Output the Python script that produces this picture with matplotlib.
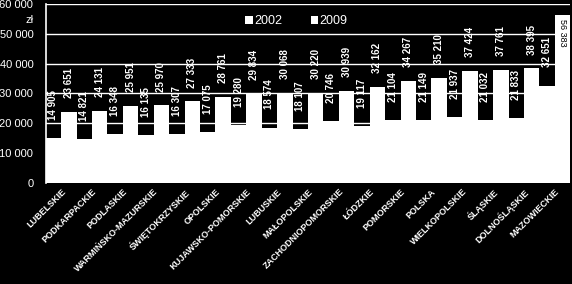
import matplotlib
matplotlib.use("Agg")
import matplotlib.pyplot as plt
import numpy as np

categories = ["LUBELSKIE", "PODKARPACKIE", "PODLASKIE", "WARMIŃSKO-MAZURSKIE",
              "ŚWIĘTOKRZYSKIE", "OPOLSKIE", "KUJAWSKO-POMORSKIE", "LUBUSKIE",
              "MAŁOPOLSKIE", "ZACHODNIOPOMORSKIE", "ŁÓDZKIE", "POMORSKIE",
              "POLSKA", "WIELKOPOLSKIE", "ŚLĄSKIE", "DOLNOŚLĄSKIE", "MAZOWIECKIE"]
values_2002 = [14905, 14821, 16348, 16135, 16307, 17075, 19280, 18574,
               18107, 20746, 19117, 21104, 21149, 21937, 21032, 21833, 32651]
values_2009 = [23651, 24131, 25951, 25970, 27333, 28761, 29834, 30068,
               30220, 30939, 32162, 34267, 35210, 37424, 37761, 38395, 56383]
yticks = [0, 10000, 20000, 30000, 40000, 50000, 60000]
ytick_labels = ["0", "10 000", "20 000", "30 000", "40 000", "50 000", "60 000"]

plt.rcParams['font.family'] = ['Liberation Sans', 'DejaVu Sans']

fig = plt.figure(figsize=(5.72, 2.84), dpi=100, facecolor='black')
ax = fig.add_axes([0.080, 0.356, 0.917, 0.630], facecolor='black')

x = np.arange(len(categories))
w = 0.5
b1 = ax.bar(x - w / 2, values_2002, width=w, color='white', edgecolor='none', zorder=3, label='2002')
b2 = ax.bar(x + w / 2, values_2009, width=w, color='white', edgecolor='none', zorder=3, label='2009')

ax.set_ylim(0, 60000)
ax.set_xlim(-0.5, len(categories) - 0.5)
ax.set_yticks(yticks)
ax.set_yticklabels(ytick_labels, color='white', fontsize=8)
ax.tick_params(axis='y', length=0, pad=9)
ax.tick_params(axis='x', length=0, pad=3)
ax.set_xticks(x)
ax.set_xticklabels(categories, rotation=45, ha='right', rotation_mode='anchor',
                   color='white', fontsize=6.5, fontweight='bold')
ax.grid(axis='y', color='white', linewidth=1, zorder=1)
for s in ['top', 'right', 'bottom']:
    ax.spines[s].set_visible(False)
ax.spines['left'].set_color('white')
ax.spines['left'].set_linewidth(1.2)

def fmt(v):
    return f"{v:,}".replace(",", " ")

for bars, vals, off in ((b1, values_2002, 13), (b2, values_2009, 10)):
    for rect, v in zip(bars, vals):
        cx = rect.get_x() + rect.get_width() / 2
        if v > 50000:
            ax.annotate(fmt(v), (cx, v), xytext=(0, -3), textcoords='offset points',
                        rotation=270, ha='center', va='top', color='black',
                        fontsize=6.5, zorder=5)
        else:
            ax.annotate(fmt(v), (cx, v), xytext=(0, off), textcoords='offset points',
                        rotation=90, ha='center', va='bottom', color='white',
                        fontsize=7, fontweight='bold', zorder=5)

fig.text(26 / 572, 1 - 20 / 284, "zł", color='white', fontsize=8, va='center', ha='left')

leg = ax.legend(loc='upper center', bbox_to_anchor=(0.478, 1.0), ncol=2, frameon=False,
                fontsize=9, handlelength=0.6, handleheight=0.6, handletextpad=0.1,
                columnspacing=2.3, labelcolor='white')

fig.savefig("out.png", dpi=100, facecolor='black')
